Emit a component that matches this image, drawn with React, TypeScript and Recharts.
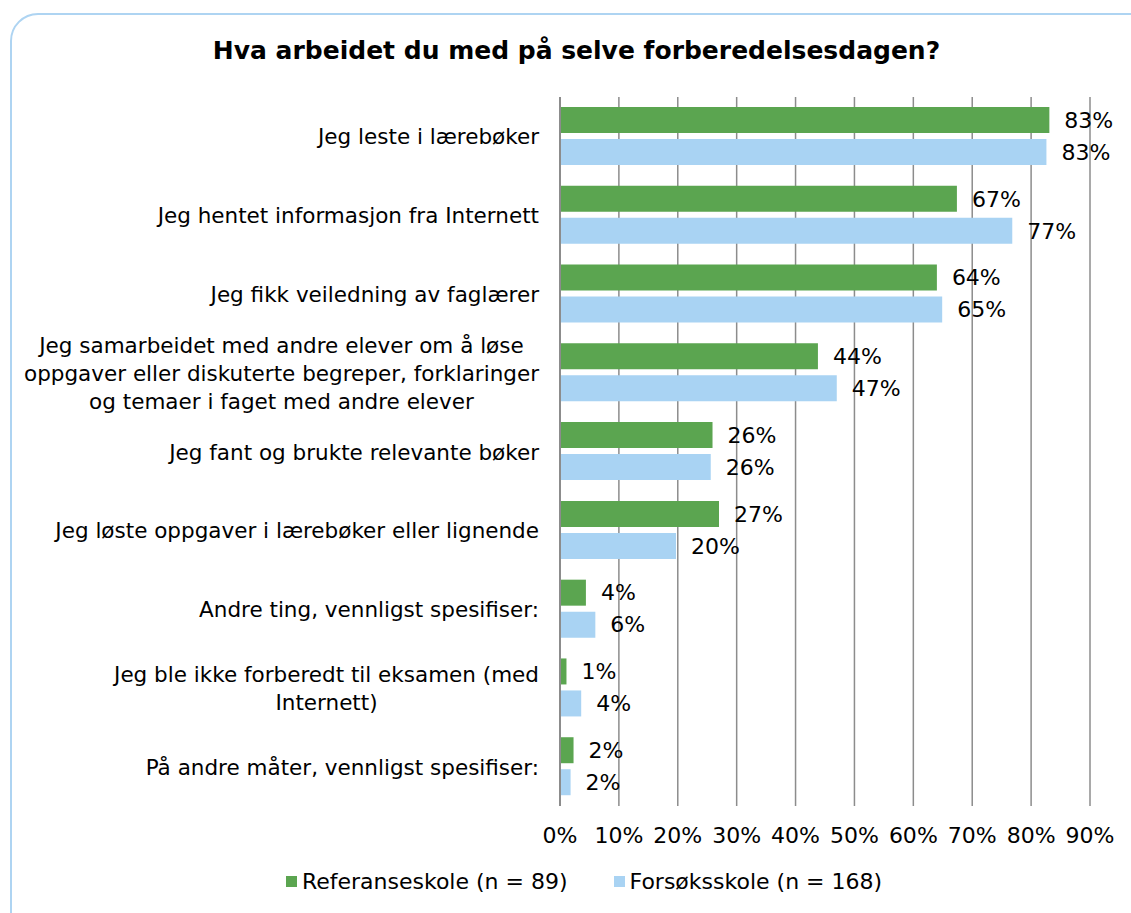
import React from 'react';
import { BarChart, Bar, XAxis, YAxis, CartesianGrid, LabelList, Legend } from 'recharts';

const categories = [
  'Jeg leste i lærebøker',
  'Jeg hentet informasjon fra Internett',
  'Jeg fikk veiledning av faglærer',
  'Jeg samarbeidet med andre elever om å løse \noppgaver eller diskuterte begreper, forklaringer\nog temaer i faget med andre elever',
  'Jeg fant og brukte relevante bøker',
  'Jeg løste oppgaver i lærebøker eller lignende',
  'Andre ting, vennligst spesifiser:',
  'Jeg ble ikke forberedt til eksamen (med\nInternett)',
  'På andre måter, vennligst spesifiser:',
];

const referanseskole = [83.1, 67.4, 64.0, 43.8, 25.9, 27.0, 4.4, 1.1, 2.3];
const forsoksskole = [82.6, 76.8, 64.9, 47.0, 25.6, 19.7, 6.0, 3.6, 1.8];

const xTicks = [0, 10, 20, 30, 40, 50, 60, 70, 80, 90];

const seriesKeys = ['referanse', 'forsok'];
const seriesNames = {
  referanse: 'Referanseskole (n = 89)',
  forsok: 'Forsøksskole (n = 168)',
};

const GREEN = '#5ba550';
const BLUE = '#a9d3f3';
const GRID = '#8c8c8c';
const FONT = "'DejaVu Sans', Verdana, sans-serif";
const FS = 22;
const CAT_FS = 21.5;

const data = categories.map((name, i) => ({
  name,
  referanse: referanseskole[i],
  forsok: forsoksskole[i],
}));

let ctx: CanvasRenderingContext2D | null = null;
const measure = (s: string) => {
  if (!ctx) {
    ctx = document.createElement('canvas').getContext('2d');
  }
  if (!ctx) return s.length * CAT_FS * 0.6;
  ctx.font = `${CAT_FS}px ${FONT}`;
  return ctx.measureText(s).width;
};

const CategoryTick = (props: any) => {
  const { x, y, payload } = props;
  const lines: string[] = String(payload.value).split('\n');
  const lh = 28;
  const y0 = y - ((lines.length - 1) * lh) / 2;
  if (lines.length === 1) {
    return (
      <text x={x} y={y} dy={8} textAnchor="end" fontSize={CAT_FS} fontFamily={FONT} fill="#000">
        {lines[0]}
      </text>
    );
  }
  const w = Math.max(...lines.map((l) => measure(l.trim())));
  const cx = x - w / 2;
  return (
    <text textAnchor="middle" fontSize={CAT_FS} fontFamily={FONT} fill="#000">
      {lines.map((l, i) => (
        <tspan key={i} x={cx} y={y0 + i * lh} dy={8}>
          {l.trim()}
        </tspan>
      ))}
    </text>
  );
};

const PercentTick = (props: any) => {
  const { x, y, payload } = props;
  return (
    <text x={x} y={y} dy={29} textAnchor="middle" fontSize={FS} fontFamily={FONT} fill="#000">
      {payload.value}%
    </text>
  );
};

const LegendContent = (props: any) => {
  const items = [...(props.payload || [])].sort(
    (a: any, b: any) => seriesKeys.indexOf(a.dataKey) - seriesKeys.indexOf(b.dataKey)
  );
  return (
    <div style={{ display: 'flex', justifyContent: 'center', fontFamily: FONT, fontSize: FS }}>
      {items.map((p: any, i: number) => (
        <div key={i} style={{ display: 'flex', alignItems: 'center', marginRight: i === 0 ? 46 : 0 }}>
          <span style={{ display: 'inline-block', width: 11, height: 11, background: p.color, marginRight: 5 }} />
          <span>{p.value}</span>
        </div>
      ))}
    </div>
  );
};

const pct = (v: any) => `${Math.round(Number(v))}%`;

export default function App() {
  return (
    <div
      style={{
        position: 'absolute',
        left: 0,
        top: 0,
        width: 1131,
        height: 913,
        overflow: 'hidden',
        background: '#fff',
      }}
    >
      <div
        style={{
          position: 'absolute',
          left: 10,
          top: 13,
          width: 1160,
          height: 940,
          border: '2px solid #aed4f2',
          borderRadius: 28,
        }}
      />
      <div
        style={{
          position: 'absolute',
          left: 0,
          top: 36,
          width: 1153,
          textAlign: 'center',
          fontFamily: FONT,
          fontWeight: 'bold',
          fontSize: 25,
          color: '#000',
        }}
      >
        Hva arbeidet du med på selve forberedelsesdagen?
      </div>
      <div style={{ position: 'absolute', left: 0, top: 0 }}>
        <BarChart
          width={1131}
          height={913}
          data={data}
          layout="vertical"
          margin={{ top: 97, right: 41, bottom: 57, left: 0 }}
          barGap={6}
        >
          <CartesianGrid horizontal={false} stroke={GRID} strokeWidth={1.5} />
          <XAxis
            type="number"
            domain={[0, 90]}
            ticks={xTicks}
            axisLine={false}
            tickLine={false}
            tick={<PercentTick />}
            height={50}
            interval={0}
          />
          <YAxis
            type="category"
            dataKey="name"
            width={560}
            axisLine={{ stroke: GRID, strokeWidth: 2 }}
            tickLine={false}
            tickSize={0}
            tickMargin={21}
            tick={<CategoryTick />}
            interval={0}
          />
          <Legend
            verticalAlign="middle"
            layout="horizontal"
            content={<LegendContent />}
            wrapperStyle={{ left: 34, width: 1100, top: 869, bottom: 'auto' }}
          />
          <Bar dataKey="referanse" name={seriesNames.referanse} fill={GREEN} barSize={26} isAnimationActive={false}>
            <LabelList
              dataKey="referanse"
              position="right"
              offset={15}
              formatter={pct}
              fontSize={FS}
              fontFamily={FONT}
              fill="#000"
            />
          </Bar>
          <Bar dataKey="forsok" name={seriesNames.forsok} fill={BLUE} barSize={26} isAnimationActive={false}>
            <LabelList
              dataKey="forsok"
              position="right"
              offset={15}
              formatter={pct}
              fontSize={FS}
              fontFamily={FONT}
              fill="#000"
            />
          </Bar>
        </BarChart>
      </div>
    </div>
  );
}
